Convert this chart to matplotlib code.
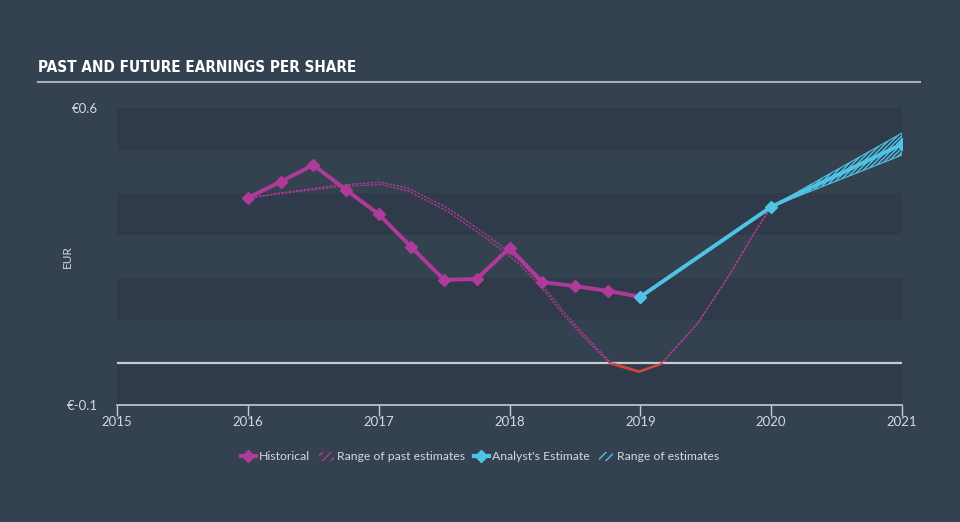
import matplotlib
matplotlib.use("Agg")
import matplotlib.pyplot as plt
from matplotlib.lines import Line2D
from matplotlib.patches import Patch, Rectangle

# Datos
hist_x = [2016.0, 2016.25, 2016.5, 2016.75, 2017.0, 2017.25, 2017.5, 2017.75,
          2018.0, 2018.25, 2018.5, 2018.75, 2019.0]
hist_y = [0.388, 0.426, 0.466, 0.407, 0.350, 0.272, 0.195, 0.197,
          0.270, 0.190, 0.180, 0.169, 0.155]

est_x = [2019.0, 2020.0, 2021.0]
est_y = [0.155, 0.367, 0.515]
est_hi = [0.155, 0.367, 0.541]
est_lo = [0.155, 0.367, 0.489]

past_x = [2016.0, 2016.3, 2016.68, 2017.01, 2017.22, 2017.53, 2017.83, 2018.08,
          2018.29, 2018.41, 2018.6, 2018.77, 2018.99, 2019.16, 2019.44, 2019.69,
          2019.87, 2020.0]
past_hi = [0.388, 0.402, 0.418, 0.425, 0.412, 0.364, 0.300, 0.240,
           0.168, 0.121, 0.056, 0.001, -0.020, -0.002, 0.093, 0.211,
           0.305, 0.367]
past_lo = [0.388, 0.400, 0.414, 0.420, 0.405, 0.356, 0.291, 0.231,
           0.160, 0.113, 0.050, -0.003, -0.023, -0.004, 0.093, 0.211,
           0.305, 0.367]

years = [2015, 2016, 2017, 2018, 2019, 2020, 2021]

bg = "#344150"
dark_band = "#2f3b4a"
light_band = "#344250"
purple = "#b03a98"
cyan = "#4fc3e6"
red = "#e0463c"
txt = "#d4d8dc"

fig = plt.figure(figsize=(9.6, 5.22), dpi=100, facecolor=bg)
ax = fig.add_axes([117/960, 1-405/522, 785/960, 297/522])
ax.set_facecolor(bg)

# bandas horizontales
for i in range(7):
    lo = -0.1 + i*0.1
    ax.axhspan(lo, lo+0.1, color=dark_band if i % 2 == 0 else light_band, lw=0, zorder=0)

ax.axhline(0, color="#c8ccd2", lw=1.6, zorder=1)

# rango de estimaciones pasadas (morado arriba de cero, rojo abajo)
above = Rectangle((2014, 0), 10, 2, transform=ax.transData)
below = Rectangle((2014, -2), 10, 2, transform=ax.transData)
for ys in (past_hi, past_lo):
    l1, = ax.plot(past_x, ys, color=purple, lw=0.9, ls=(0, (2, 1)), zorder=2)
    l1.set_clip_path(above)
    l2, = ax.plot(past_x, ys, color=red, lw=1.0, zorder=2)
    l2.set_clip_path(below)

# rango de estimaciones futuras
ax.fill_between(est_x[1:], est_lo[1:], est_hi[1:], facecolor="none",
                edgecolor=cyan, hatch="////////", lw=0.8, zorder=3)

ax.plot(hist_x, hist_y, color=purple, lw=2.8, marker="D", ms=6.5,
        solid_joinstyle="round", zorder=4)
ax.plot(est_x, est_y, color=cyan, lw=2.8, marker="D", ms=6.5,
        solid_joinstyle="round", zorder=5)

ax.set_xlim(2015, 2021)
ax.set_ylim(-0.1, 0.6)
ax.set_xticks(years)
ax.set_xticklabels([str(y) for y in years])
ax.set_yticks([-0.1, 0.6])
ax.set_yticklabels(["€-0.1", "€0.6"])
ax.tick_params(axis="x", colors="#c8ccd2", labelcolor=txt, length=8, width=1,
               direction="out", labelsize=9.5, pad=0)
ax.tick_params(axis="y", length=0, labelcolor=txt, labelsize=9.5, pad=14)
for s in ["top", "right", "left"]:
    ax.spines[s].set_visible(False)
ax.spines["bottom"].set_color("#c8ccd2")
ax.spines["bottom"].set_linewidth(1.2)
for lab in ax.get_xticklabels() + ax.get_yticklabels():
    lab.set_family(["Lato", "DejaVu Sans"])
ax.set_ylabel("EUR", color=txt, fontsize=8.5, family=["Lato", "DejaVu Sans"])
ax.yaxis.set_label_coords(-(117-73)/785, 0.5)

# titulo
fig.text(38/960, 1-68/522, "PAST AND FUTURE EARNINGS PER SHARE", color="white",
         fontsize=11, fontweight="bold", fontstretch="condensed", va="center",
         family=["DejaVu Sans"])
fig.add_artist(Line2D([38/960, 920/960], [1-82/522, 1-82/522], color="#a9b0b8", lw=1.5))

# leyenda
handles = [
    Line2D([], [], color=purple, lw=3, marker="D", ms=6),
    Patch(facecolor="none", edgecolor=purple, hatch="////", lw=0),
    Line2D([], [], color=cyan, lw=3, marker="D", ms=6),
    Patch(facecolor="none", edgecolor=cyan, hatch="////", lw=0),
]
labels = ["Historical", "Range of past estimates", "Analyst's Estimate", "Range of estimates"]
leg = fig.legend(handles, labels, loc="center", bbox_to_anchor=(0.5, 1-457/522), ncol=4,
                 frameon=False, handlelength=1.2, handletextpad=0.3,
                 columnspacing=0.7, labelcolor=txt, prop={"family": ["Lato", "DejaVu Sans"], "size": 8.8})

fig.savefig("out.png", dpi=100, facecolor=bg)
